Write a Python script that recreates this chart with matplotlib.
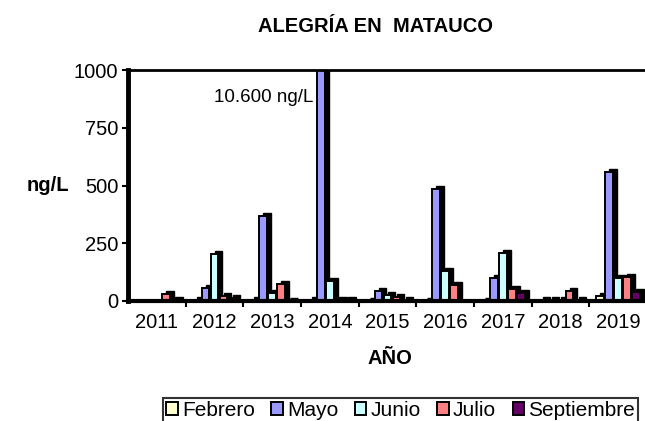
import matplotlib
matplotlib.use("Agg")
import matplotlib.pyplot as plt
from matplotlib.patches import Patch
import numpy as np

plt.rcParams['font.family'] = ['Liberation Sans', 'DejaVu Sans']

nan = float('nan')
years = ['2011', '2012', '2013', '2014', '2015', '2016', '2017', '2018', '2019']
series_names = ['Febrero', 'Mayo', 'Junio', 'Julio', 'Septiembre']
febrero = [nan, 5, 3, 3, 2, 2, 2, 4, 23]
mayo = [nan, 55, 370, 10600, 42, 485, 100, 4, 557]
junio = [nan, 205, 35, 88, 27, 129, 206, 3, 100]
julio = [30, 20, 75, 5, 19, 69, 52, 45, 105]
septiembre = [5, 11, 2, 3, 5, nan, 35, 5, 38]
series_values = [febrero, mayo, junio, julio, septiembre]
colors = ['#FFFFCC', '#9999FF', '#CCFFFF', '#FF8080', '#660066']
y_ticks = [0, 250, 500, 750, 1000]

W, H = 645, 421
fig = plt.figure(figsize=(W / 100, H / 100), dpi=100)
ax = fig.add_axes([128 / W, 1 - 301 / H, 519 / W, 231 / H])

x = np.arange(len(years))
pitch = 0.156
width = 0.135
dx = 0.07   # depth offset in category units
dy = 13     # depth offset in data units

for j in range(len(years)):
    for i, vals in enumerate(series_values):
        v = vals[j]
        if np.isnan(v):
            continue
        xc = x[j] + (i - 2) * pitch
        # depth / shadow
        ax.bar(xc + dx, v, width=width, bottom=dy, color='black',
               edgecolor='black', linewidth=1.0, zorder=2 + j * 10 + i * 2)
        # front face
        ax.bar(xc, v, width=width, color=colors[i], edgecolor='black',
               linewidth=1.4, zorder=3 + j * 10 + i * 2)

ax.set_xlim(-0.5, 8.5)
ax.set_ylim(0, 1000)
ax.set_yticks(y_ticks)
ax.set_yticklabels([str(t) for t in y_ticks])
ax.set_xticks(x)
ax.set_xticklabels(years)
ax.set_xticks(x[:-1] + 0.5, minor=True)

ax.tick_params(axis='x', which='major', length=0, pad=9, labelsize=14.5)
ax.tick_params(axis='x', which='minor', length=4, width=1.5, direction='out')
ax.tick_params(axis='y', length=4, width=1.5, direction='out', pad=3, labelsize=14.5)

ax.spines['left'].set_linewidth(3.5)
ax.spines['bottom'].set_linewidth(3.0)
ax.spines['top'].set_linewidth(2.0)
ax.spines['right'].set_visible(False)
for s in ax.spines.values():
    s.set_zorder(500)
    s.set_color('black')

ax.text(2.706, 883, '10.600 ng/L', ha='right', va='center', fontsize=13.5, zorder=600)

fig.text(375 / W, 1 - 27 / H, 'ALEGRÍA EN  MATAUCO', ha='center', va='center',
         fontsize=14.5, fontweight='bold')
fig.text(48 / W, 1 - 186 / H, 'ng/L', ha='center', va='center',
         fontsize=14.5, fontweight='bold')
fig.text(390 / W, 1 - 358 / H, 'AÑO', ha='center', va='center',
         fontsize=14.5, fontweight='bold')

handles = [Patch(facecolor=c, edgecolor='black', linewidth=1.4) for c in colors]
leg = fig.legend(handles, series_names, loc='upper left',
                 bbox_to_anchor=(163 / W, 1 - 398 / H), ncol=5,
                 fontsize=15, frameon=True, fancybox=False,
                 handlelength=0.55, handleheight=0.55, handletextpad=0.2,
                 columnspacing=0.8, borderpad=0.15, borderaxespad=0)
leg.get_frame().set_edgecolor('black')
leg.get_frame().set_linewidth(1.5)

fig.savefig('out.png', dpi=100)
